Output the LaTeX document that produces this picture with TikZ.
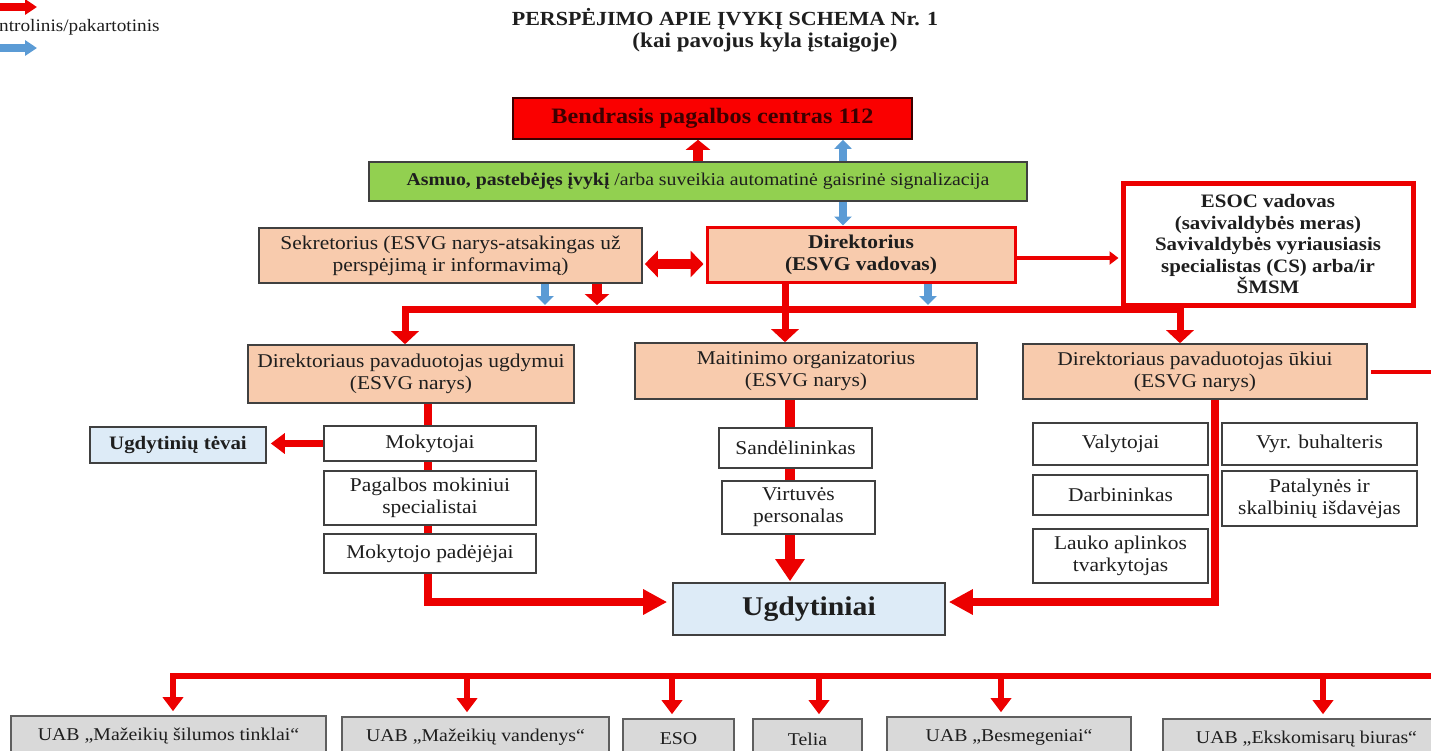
\documentclass[tikz,border=0pt]{standalone}
\usepackage{fontspec}
\setmainfont{Liberation Serif}[FakeStretch=1.1]
\usetikzlibrary{arrows.meta}
\definecolor{redA}{RGB}{236,0,0}
\definecolor{bendc}{RGB}{250,0,0}
\definecolor{peachc}{RGB}{248,203,173}
\definecolor{greenc}{RGB}{146,208,80}
\definecolor{lbc}{RGB}{221,235,247}
\definecolor{grayc}{RGB}{217,217,217}
\definecolor{grayb}{RGB}{95,95,95}
\definecolor{bordc}{RGB}{64,64,64}
\definecolor{bluec}{RGB}{91,155,213}
\definecolor{txtc}{RGB}{30,30,30}
\definecolor{darkred}{RGB}{60,0,0}
\newcommand\myfs[2]{\fontsize{#1}{#2}\selectfont}
\pgfdeclarelayer{bg}
\pgfsetlayers{bg,main}
\begin{document}
\begin{tikzpicture}[x=1pt,y=-1pt,
  box/.style={draw=bordc, line width=1.6pt, fill=white, align=center, inner sep=1pt, text=txtc, font=\myfs{19.5}{22}},
  peach/.style={box, fill=peachc},
  lbox/.style={box, fill=lbc, font=\bfseries\myfs{19}{22}},
  gbox/.style={box, fill=grayc, draw=grayb, font=\myfs{18}{20}},
  rl/.style={draw=redA, line width=#1},
  bl/.style={draw=bluec, line width=#1}]
\useasboundingbox (0,0) rectangle (1431,750);
\clip (0,0) rectangle (1431,750);

% titles and legend
\node[font=\bfseries\myfs{20}{22}, text=txtc] (t1) at (725,19) {PERSPĖJIMO APIE ĮVYKĮ SCHEMA Nr. 1};
\node[font=\bfseries\myfs{21}{22}, text=txtc] (t2) at (765,43) {(kai pavojus kyla įstaigoje)};
\node[font=\myfs{17.5}{20}, anchor=west, inner sep=0, text=txtc] (leg) at (-1,27) {ntrolinis/pakartotinis};
\coordinate (lgr1) at (-5,7);
\coordinate (lgr2) at (37,7);
\coordinate (lgb1) at (-5,48);
\coordinate (lgb2) at (37,48);

% top boxes
\node[box, fill=bendc, draw=darkred, text=darkred, font=\bfseries\myfs{22}{24}, minimum width=399pt, minimum height=41pt] (bend) at (712.5,118.5) {Bendrasis pagalbos centras 112};
\node[box, fill=greenc, draw=bordc, font=\myfs{18}{20}, minimum width=658pt, minimum height=39pt] (green) at (698,181.5) {{\bfseries Asmuo, pastebėjęs įvykį} /arba suveikia automatinė gaisrinė signalizacija};
\node[peach, minimum width=383pt, minimum height=55pt] (sekr) at (450.5,255.5) {Sekretorius (ESVG narys-atsakingas už\\perspėjimą ir informavimą)};
\node[peach, draw=redA, line width=3pt, font=\bfseries\myfs{19.5}{22}, minimum width=308pt, minimum height=55pt] (dir) at (861,254.5) {Direktorius\\(ESVG vadovas)};
\node[box, draw=redA, line width=5pt, font=\bfseries\myfs{19}{21.5}, minimum width=290pt, minimum height=122pt] (esoc) at (1268,244) {ESOC vadovas\\(savivaldybės meras)\\Savivaldybės vyriausiasis\\specialistas (CS) arba/ir\\ŠMSM};

% deputies
\node[peach, minimum width=326pt, minimum height=58pt] (dpu) at (411,374) {Direktoriaus pavaduotojas ugdymui\\(ESVG narys)};
\node[peach, minimum width=342pt, minimum height=56pt] (mait) at (806,371) {Maitinimo organizatorius\\(ESVG narys)};
\node[peach, minimum width=344pt, minimum height=55pt] (dpuk) at (1195,371.5) {Direktoriaus pavaduotojas ūkiui\\(ESVG narys)};

% left column
\node[box, minimum width=212pt, minimum height=35pt] (mok) at (430,443.5) {Mokytojai};
\node[box, minimum width=212pt, minimum height=54pt] (pag) at (430,498) {Pagalbos mokiniui\\specialistai};
\node[box, minimum width=212pt, minimum height=39pt] (mokp) at (430,553.5) {Mokytojo padėjėjai};
\node[lbox, minimum width=176pt, minimum height=36pt] (tevai) at (178,445) {Ugdytinių tėvai};

% middle column
\node[box, minimum width=153pt, minimum height=40pt] (sand) at (795.5,448) {Sandėlininkas};
\node[box, minimum width=153pt, minimum height=53pt] (virt) at (798.5,507.5) {Virtuvės\\personalas};
\node[lbox, font=\bfseries\myfs{27}{30}, minimum width=272pt, minimum height=52pt] (ugd) at (809,609) {Ugdytiniai};

% right column
\node[box, minimum width=175pt, minimum height=42pt] (valy) at (1120.5,444) {Valytojai};
\node[box, minimum width=175pt, minimum height=40pt] (darb) at (1120.5,495) {Darbininkas};
\node[box, minimum width=175pt, minimum height=54pt] (lauk) at (1120.5,556) {Lauko aplinkos\\tvarkytojas};
\node[box, minimum width=195pt, minimum height=42pt] (vyr) at (1319.5,444) {Vyr. buhalteris};
\node[box, minimum width=195pt, minimum height=55pt] (pat) at (1319.5,498.5) {Patalynės ir\\skalbinių išdavėjas};

% bottom organisations
\node[gbox, minimum width=315pt, minimum height=40pt] (sil) at (168.5,736) {UAB „Mažeikių šilumos tinklai“};
\node[gbox, minimum width=267pt, minimum height=40pt] (van) at (475.5,737) {UAB „Mažeikių vandenys“};
\node[gbox, minimum width=111pt, minimum height=40pt] (eso) at (678.5,739) {ESO};
\node[gbox, minimum width=109pt, minimum height=40pt] (tel) at (807.5,739) {Telia};
\node[gbox, minimum width=244pt, minimum height=40pt] (bes) at (1009,737) {UAB „Besmegeniai“};
\node[gbox, minimum width=287pt, minimum height=40pt] (eks) at (1306.5,739) {UAB „Ekskomisarų biuras“};

% helper coordinates
\coordinate (busL) at (405,309);
\coordinate (busR) at (1180,309);
\coordinate (busT) at (405,305);
\coordinate (cL) at (428,602);
\coordinate (cR) at (1215,602);
\coordinate (offR) at (1445,372);
\coordinate (bbL) at (173,676);
\coordinate (bbR) at (1445,676);

\begin{pgfonlayer}{bg}
% legend arrows
\draw[rl=8pt, -{Triangle[width=15pt,length=12pt]}] (lgr1) -- (lgr2);
\draw[bl=8pt, -{Triangle[width=15pt,length=12pt]}] (lgb1) -- (lgb2);
% top
\draw[rl=10pt, -{Triangle[width=24pt,length=10pt]}] (green.north) -- (bend.south -| green.north);
\draw[bl=8pt, -{Triangle[width=17pt,length=9pt]}] (green.north -| 843,0) -- (bend.south -| 843,0);
\draw[bl=8pt, -{Triangle[width=17pt,length=9pt]}] (green.south -| 843,0) -- (dir.north -| 843,0);
\draw[rl=10pt, {Triangle[width=26pt,length=13pt]}-{Triangle[width=26pt,length=13pt]}, shorten <=2pt, shorten >=2pt] (sekr.east |- 0,264) -- (dir.west |- 0,264);
\draw[rl=4.5pt, -{Triangle[width=13pt,length=9pt]}, shorten >=2pt] (dir.east |- 0,258) -- (esoc.west |- 0,258);
\draw[bl=8pt, -{Triangle[width=17pt,length=9pt]}] (sekr.south -| 545,0) -- (busT -| 545,0);
\draw[rl=10pt, -{Triangle[width=24pt,length=11pt]}] (sekr.south -| 597,0) -- (busT -| 597,0);
\draw[bl=8pt, -{Triangle[width=17pt,length=9pt]}] (dir.south -| 928,0) -- (busT -| 928,0);
% bus
\draw[rl=7pt, line join=miter, {Triangle[width=27pt,length=13pt]}-{Triangle[width=27pt,length=13pt]}] (dpu.north -| busL) -- (busL) -- (busR) -- (dpuk.north -| busR);
\draw[rl=7pt, -{Triangle[width=27pt,length=13pt]}] (dir.south -| 785,0) -- (mait.north -| 785,0);
% to Ugdytiniai
\draw[rl=8pt, line join=miter, -{Triangle[width=24pt,length=24pt]}, shorten >=5pt] (dpu.south -| cL) -- (cL) -- (ugd.west |- cL);
\draw[rl=10pt, -{Triangle[width=28pt,length=22pt]}, shorten >=1pt] (mait.south -| 790,0) -- (ugd.north -| 790,0);
\draw[rl=8pt, line join=miter, -{Triangle[width=24pt,length=24pt]}, shorten >=3pt] (dpuk.south -| cR) -- (cR) -- (ugd.east |- cR);
\draw[rl=7pt, -{Triangle[width=20pt,length=14pt]}, shorten >=4pt] (mok.west) -- (tevai.east |- mok.west);
\draw[rl=4.5pt, shorten <=3pt] (dpuk.east |- offR) -- (offR);
% bottom bus
\draw[rl=6pt, line join=miter, {Triangle[width=20pt,length=14pt]}-, shorten <=4pt] (sil.north -| bbL) -- (bbL) -- (bbR);
\foreach \n/\xx in {van/467, eso/672, tel/819, bes/1001, eks/1323}
  \draw[rl=6pt, -{Triangle[width=20pt,length=14pt]}, shorten >=4pt] (bbL -| \xx,0) -- (\n.north -| \xx,0);
\end{pgfonlayer}
\end{tikzpicture}
\end{document}
